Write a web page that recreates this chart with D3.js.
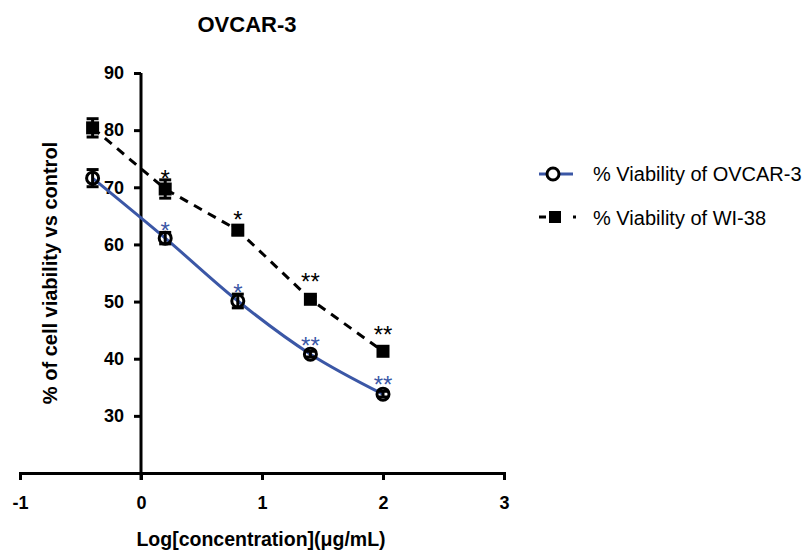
<!DOCTYPE html>
<html lang="en">
<head>
<meta charset="utf-8">
<script src="https://cdnjs.cloudflare.com/ajax/libs/d3/7.8.5/d3.min.js"></script>
<style>
  body { margin: 0; background: #fff; }
  svg { font-family: "Liberation Sans", Arial, sans-serif; }
</style>
</head>
<body>
<svg id="chart" width="803" height="555"></svg>
<script>
// data
var logConc = [-0.4, 0.2, 0.8, 1.4, 2];
var ovcar = [71.6, 61.1, 50.1, 40.8, 33.8];
var ovcarErr = [1.5, 1.0, 1.2, 0.5, 0.5];
var ovcarStars = ["", "*", "*", "**", "**"];
var wi38 = [80.4, 69.7, 62.5, 50.4, 41.3];
var wi38Err = [1.6, 1.6, 0.8, 0.5, 0.5];
var wi38Stars = ["", "*", "*", "**", "**"];
var xTicks = [-1, 0, 1, 2, 3];
var yTicks = [30, 40, 50, 60, 70, 80, 90];
var seriesNames = ["% Viability of OVCAR-3", "% Viability of WI-38"];

// how far (px) each star sits above its marker
var ovcarLift = [0, 13, 14, 14, 15];
var wiLift = [0, 16, 16, 23, 22];

var blue = "#3b57a6";

var svg = d3.select("#chart");
var x = d3.scaleLinear().domain([-1, 3]).range([20, 504]);
var y = d3.scaleLinear().domain([20, 90]).range([473, 73]);

// axes
var xAxis = svg.append("g").attr("transform", "translate(0," + y(20) + ")")
  .call(d3.axisBottom(x).tickValues(xTicks).tickSize(7).tickPadding(16).tickFormat(function (d) { return String(d); }));
var yAxis = svg.append("g").attr("transform", "translate(" + x(0) + ",0)")
  .call(d3.axisLeft(y).tickValues(yTicks).tickSize(7).tickPadding(10).tickFormat(function (d) { return String(d); }));
[xAxis, yAxis].forEach(function (a) {
  a.select(".domain").attr("stroke", "#000").attr("stroke-width", 3);
  a.selectAll(".tick line").attr("stroke", "#000").attr("stroke-width", 3);
  a.selectAll(".tick text").attr("fill", "#000").attr("font-size", 18).attr("font-weight", "bold");
});
// y axis runs down through the x axis
yAxis.select(".domain").attr("d", "M0," + y(90) + "V" + (y(20) + 7));

// lines
var ovcarLine = d3.line().x(function (d, i) { return x(logConc[i]); }).y(function (d) { return y(d); })
  .curve(d3.curveMonotoneX);
var wiLine = d3.line().x(function (d, i) { return x(logConc[i]); }).y(function (d) { return y(d); });

svg.append("path").datum(wi38).attr("d", wiLine).attr("fill", "none")
  .attr("stroke", "#000").attr("stroke-width", 3).attr("stroke-dasharray", "9,7");
svg.append("path").datum(ovcar).attr("d", ovcarLine).attr("fill", "none")
  .attr("stroke", blue).attr("stroke-width", 3);

// error bars
function errorBars(vals, errs) {
  var g = svg.append("g").attr("stroke", "#000").attr("stroke-width", 3);
  vals.forEach(function (v, i) {
    var cx = x(logConc[i]);
    g.append("line").attr("x1", cx).attr("x2", cx).attr("y1", y(v + errs[i])).attr("y2", y(v - errs[i]));
    g.append("line").attr("x1", cx - 6).attr("x2", cx + 6).attr("y1", y(v + errs[i])).attr("y2", y(v + errs[i]));
    g.append("line").attr("x1", cx - 6).attr("x2", cx + 6).attr("y1", y(v - errs[i])).attr("y2", y(v - errs[i]));
  });
}
errorBars(wi38, wi38Err);
errorBars(ovcar, ovcarErr);

// markers
svg.append("g").selectAll("rect").data(wi38).join("rect")
  .attr("x", function (d, i) { return x(logConc[i]) - 6.5; })
  .attr("y", function (d) { return y(d) - 6.5; })
  .attr("width", 13).attr("height", 13).attr("fill", "#000");
svg.append("g").selectAll("circle").data(ovcar).join("circle")
  .attr("cx", function (d, i) { return x(logConc[i]); })
  .attr("cy", function (d) { return y(d); })
  .attr("r", 6).attr("fill", "none").attr("stroke", "#000").attr("stroke-width", 3);

// significance stars
svg.append("g").selectAll("text").data(wi38Stars).join("text")
  .attr("x", function (d, i) { return x(logConc[i]); })
  .attr("y", function (d, i) { return y(wi38[i]) - wiLift[i] + 13.5; })
  .attr("text-anchor", "middle").attr("font-size", 24).attr("fill", "#000")
  .text(function (d) { return d; });
svg.append("g").selectAll("text").data(ovcarStars).join("text")
  .attr("x", function (d, i) { return x(logConc[i]); })
  .attr("y", function (d, i) { return y(ovcar[i]) - ovcarLift[i] + 13.5; })
  .attr("text-anchor", "middle").attr("font-size", 24).attr("fill", blue)
  .text(function (d) { return d; });

// titles
svg.append("text").attr("x", 247).attr("y", 32).attr("text-anchor", "middle")
  .attr("font-size", 22).attr("font-weight", "bold").text("OVCAR-3");
svg.append("text").attr("x", 261).attr("y", 546).attr("text-anchor", "middle")
  .attr("font-size", 19.5).attr("font-weight", "bold").text("Log[concentration](\u03bcg/mL)");
svg.append("text").attr("transform", "translate(57,273) rotate(-90)").attr("text-anchor", "middle")
  .attr("font-size", 20).attr("font-weight", "bold").text("% of cell viability vs control");

// legend
var leg = svg.append("g");
leg.append("line").attr("x1", 539).attr("x2", 573).attr("y1", 174).attr("y2", 174)
  .attr("stroke", blue).attr("stroke-width", 3);
leg.append("circle").attr("cx", 553).attr("cy", 174).attr("r", 6)
  .attr("fill", "#fff").attr("stroke", "#000").attr("stroke-width", 3);
leg.append("line").attr("x1", 539).attr("x2", 546).attr("y1", 217).attr("y2", 217)
  .attr("stroke", "#000").attr("stroke-width", 3);
leg.append("rect").attr("x", 549).attr("y", 211).attr("width", 12).attr("height", 12).attr("fill", "#000");
leg.append("line").attr("x1", 573).attr("x2", 576).attr("y1", 217).attr("y2", 217)
  .attr("stroke", "#000").attr("stroke-width", 3);
leg.selectAll("text.lbl").data(seriesNames).join("text").attr("class", "lbl")
  .attr("x", 593).attr("y", function (d, i) { return 181 + i * 44; })
  .attr("font-size", 20).attr("fill", "#000").text(function (d) { return d; });
</script>
</body>
</html>
